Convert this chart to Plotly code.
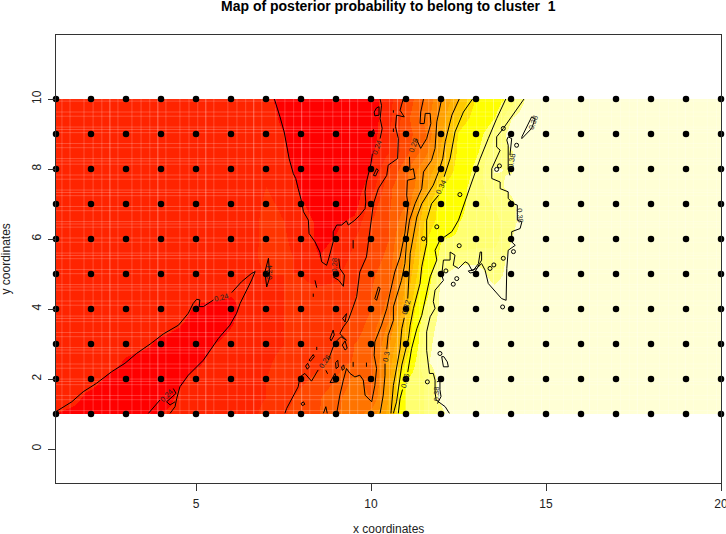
import plotly.graph_objects as go

title = "Map of posterior probability to belong to cluster  1"
grid_x = [1 + 0.5 * i for i in range(39)]
grid_y = [1 + 0.5 * i for i in range(19)]

L = [.245] * 12
R = [.393, .394, .394, .395, .395, .396, .396, .397, .397, .398, .398]
# columns x = 1 ... 20 by 0.5, rows y = 1 ... 10 by 0.5
z_y10 = [.24, .237, .234, .232, .232, .238, .241, .243, .245, .246, .247, .248, .252, .259, .266, .27, .279, .285, .295, .314, .362, .37, .377, .39, .392, .392, .392, .392] + R
z_y15 = [.245, .243, .236, .232, .23, .23, .233, .243, .245, .246, .247, .248, .25, .256, .263, .269, .277, .287, .279, .312, .362, .37, .383, .39, .391, .391, .391, .392] + R
z_y20 = [.245, .245, .245, .237, .233, .232, .233, .237, .245, .246, .247, .248, .25, .253, .258, .263, .27, .283, .276, .308, .361, .37, .384, .39, .391, .391, .391, .392] + R
z_y25 = [.245, .245, .245, .245, .238, .233, .232, .233, .237, .245, .246, .247, .249, .252, .254, .257, .266, .271, .279, .305, .342, .378, .385, .39, .391, .391, .391, .392] + R
z_y30 = [.245, .245, .245, .245, .245, .243, .236, .232, .232, .24, .245, .246, .248, .25, .252, .255, .26, .27, .277, .30, .33, .375, .386, .39, .391, .391, .391, .392] + R
z_y35 = [.245, .245, .245, .245, .245, .245, .245, .24, .235, .232, .24, .245, .247, .25, .252, .254, .257, .264, .275, .293, .326, .372, .385, .39, .391, .391, .391, .392] + R
z_y40 = [.245, .245, .245, .245, .245, .245, .245, .245, .238, .235, .237, .245, .247, .25, .252, .254, .256, .261, .27, .285, .32, .362, .384, .388, .388, .388, .388, .39] + R
z_y45 = [.245, .245, .245, .245, .245, .245, .245, .245, .245, .245, .241, .243, .248, .25, .252, .252, .253, .259, .27, .28, .315, .351, .384, .388, .387, .383, .385, .39] + R
z_y50 = L + [.25, .25, .25, .246, .248, .256, .268, .277, .31, .344, .38, .386, .385, .376, .384, .39] + R
z_y55 = L + [.255, .252, .248, .24, .245, .252, .263, .274, .305, .339, .365, .375, .376, .374, .383, .39] + R
z_y60 = L + [.254, .251, .246, .237, .241, .25, .261, .27, .30, .335, .36, .362, .364, .366, .38, .39] + R
z_y65 = L + [.254, .25, .244, .238, .238, .243, .26, .27, .289, .33, .346, .36, .364, .367, .376, .39] + R
z_y70 = L + [.252, .248, .241, .235, .233, .235, .255, .269, .28, .323, .346, .357, .365, .371, .377, .39] + R
z_y75 = L + [.25, .246, .238, .233, .231, .234, .245, .268, .279, .303, .341, .355, .366, .376, .383, .392] + R
z_y80 = L + [.248, .243, .236, .232, .23, .232, .24, .26, .278, .298, .32, .349, .364, .381, .379, .39] + R
z_y85 = L + [.247, .241, .235, .23, .228, .23, .238, .25, .267, .285, .313, .345, .358, .375, .379, .39] + R
z_y90 = L + [.246, .24, .234, .23, .228, .23, .235, .25, .266, .277, .308, .343, .354, .37, .385, .39] + R
z_y95 = L + [.245, .237, .232, .228, .228, .23, .235, .247, .267, .283, .304, .33, .347, .359, .379, .388] + R
z_y100 = L + [.243, .235, .23, .228, .228, .23, .235, .247, .263, .28, .299, .319, .342, .353, .365, .385] + R
z_rows = [z_y10, z_y15, z_y20, z_y25, z_y30, z_y35, z_y40, z_y45, z_y50, z_y55, z_y60, z_y65,
          z_y70, z_y75, z_y80, z_y85, z_y90, z_y95, z_y100]

z_low, z_high = 0.22, 0.40
band_edges = [.22, .24, .25, .26, .27, .28, .29, .30, .31, .32, .33, .34, .35, .36, .37, .38, .40]
band_colors = ["#FF0000", "#FF2400", "#FF3400", "#FF4800", "#FF6000", "#FF7400", "#FF8800", "#FFA000", "#FFB000",
               "#FFC800", "#FFDF00", "#FFFF00", "#FFFF00", "#FFFF70", "#FFFF80", "#FFFFD5"]

line_024_up = [(7.24,10.0),(7.30,9.78),(7.40,9.49),(7.52,9.06),(7.59,8.68),(7.66,8.30),(7.78,7.87),(7.85,7.73),(7.92,7.44),(8.02,7.06),(8.07,6.78),(8.21,6.54),(8.23,6.16),(8.40,5.92),(8.54,5.63),(8.59,5.35),(8.73,5.25),(8.78,5.40),(8.92,5.92),(8.92,6.21),(9.02,6.40),(9.16,6.40),(9.30,6.52),(9.35,6.40),(9.54,6.54),(9.68,6.68),(9.83,6.87),(9.85,7.06),(9.83,7.35),(9.87,7.63),(10.0,8.16),(10.04,8.44),None,(10.26,8.87),(10.32,9.16),(10.26,9.44),(10.30,9.82),(10.26,10.0)]
line_024_low = [(1.0,1.07),(1.45,1.35),(1.78,1.64),(2.16,1.88),(2.59,2.21),(2.97,2.45),(3.30,2.73),(3.69,3.0),(4.07,3.29),(4.50,3.54),(4.78,3.88),(4.92,4.16),(5.02,4.28),(5.11,4.26),(5.09,4.07),(5.21,4.07),(5.50,4.26),None,(6.02,4.47),(6.30,4.78),(6.59,5.02),(6.69,5.07),(6.59,4.83),(6.40,4.45),(6.26,4.16),(6.16,3.88),(5.97,3.54),(5.64,3.16),(5.21,2.54),(4.78,2.11),(4.54,1.78),(4.45,1.45),(4.40,1.21),(4.26,1.02)]
line_024_foot = [(3.64,1.02),(3.97,1.40),None,(4.35,1.73),(4.43,1.59),(4.16,1.35),(4.26,1.26),(4.40,1.35)]
line_026 = [(10.92,10.0),(10.83,9.68),(10.95,9.49),(10.73,9.54),(10.70,9.21),(10.78,8.87),(10.76,8.30),(10.49,8.11),(10.45,7.82),(10.21,7.44),(10.07,7.01),(10.02,6.63),(9.87,5.49),(9.68,5.06),(9.59,4.35),(9.49,4.06),(9.35,3.68),(9.21,3.49),(9.11,3.30),(9.30,3.11),(9.14,3.21),(8.99,3.06),(8.92,2.92),(8.78,2.54),None,(8.49,2.26),(8.30,1.94),(8.11,2.16),(7.97,2.06),(7.92,1.78),(7.73,1.44),(7.59,1.16),(7.54,1.02)]
line_028 = [(11.50,10.0),(11.42,9.63),(11.40,9.30),(11.52,9.30),(11.55,9.59),(11.69,9.59),(11.71,9.30),(11.59,8.87),(11.42,8.59),(11.29,8.87),None,(11.10,8.35),(11.11,7.97),(11.21,8.01),(11.26,7.73),(11.04,7.68),(11.02,7.25),(11.06,6.97),(10.97,6.17),(10.83,5.49),(10.68,5.06),(10.54,4.44),(10.45,4.01),(10.30,3.54),(10.11,3.06),(10.09,2.68),(10.16,2.30),(10.11,1.82),(10.02,1.35),(9.83,1.54),(9.78,1.97),(9.68,2.11),(9.54,2.06),(9.40,2.16),(9.30,2.30),(9.21,1.97),(9.11,1.54),(9.02,1.02)]
line_030 = [(12.02,10.0),(11.88,9.35),(11.83,8.59),(11.73,8.25),(11.50,7.92),(11.45,7.44),(11.26,7.01),(11.10,6.54),(11.02,5.97),(10.97,5.30),(10.87,4.82),(10.64,4.06),(10.64,3.68),(10.49,3.25),(10.45,2.85),None,(10.40,2.44),(10.40,2.11),(10.35,1.54),(10.26,1.02)]
line_032 = [(12.52,10.0),(12.31,9.54),(12.12,8.78),(12.05,8.30),(11.93,7.92),(11.78,7.54),(11.45,7.01),(11.31,6.63),(11.12,5.59),(11.07,4.82),(11.05,4.3),None,(10.95,3.75),(10.88,3.44),(10.83,2.87),(10.73,2.30),(10.64,1.82),(10.57,1.02)]
line_034 = [(12.9,10.0),(12.64,9.63),(12.40,9.06),(12.26,8.30),(12.09,7.78),None,(11.93,7.25),(11.73,7.01),(11.59,6.54),(11.59,5.87),(11.45,5.21),(11.40,4.73),(11.21,4.01),(11.12,3.54),(11.07,3.16),(10.88,2.40),(10.73,1.35),(10.64,1.02)]
line_036 = [(13.85,10.0),(13.59,9.44),(13.35,8.87),(13.12,8.30),(12.88,7.63),(12.69,7.11),(12.50,6.54),(12.31,6.21),(11.97,5.97),(11.83,5.68),(11.88,5.40),(11.69,4.92),(11.59,4.44),(11.50,4.01),(11.45,3.82),(11.31,3.44),(11.16,2.87),(11.05,2.2),None,(10.9,1.7),(10.83,1.44),(10.78,1.02)]
line_038 = [(14.37,10.0),(14.02,9.49),(13.78,9.16),(13.59,8.92),(13.59,8.63),(13.69,8.54),(13.45,8.01),(13.45,7.73),(13.69,7.63),(13.69,7.44),(13.92,7.35),(13.92,7.16),(14.07,7.01),(14.18,6.97),(14.18,6.54),(14.31,6.49),(14.26,6.30),(14.02,6.21),(14.02,5.92),(14.12,5.82),(13.92,5.68),(13.88,5.16),(13.86,4.25),(13.73,4.30),(13.35,4.73),(13.26,5.11),(13.16,5.30),(13.02,5.16),(12.88,5.11),(12.78,5.30),(12.69,5.35),(12.50,5.16),(12.35,5.25),(12.40,5.54),(12.26,5.63),(12.26,5.40),(12.07,5.40),(12.02,4.97),(12.07,4.82),(11.83,4.54),(11.78,4.21),(11.83,4.02),(11.69,3.78),(11.59,3.35),(11.59,2.82),(11.64,2.40),(11.67,2.16),(11.78,2.16),(11.83,1.97),(11.83,1.63),(11.86,1.40),(12.12,1.21),(12.24,1.02)]
islands = [
    [(10.11,9.52),(10.09,9.63),(10.16,9.75),(10.23,9.78),(10.23,9.54),(10.11,9.52)],
    [(9.97,8.95),(10.07,9.13),(10.10,9.01),(9.97,8.95)],
    [(10.07,7.82),(10.16,8.01),(10.21,7.97),(10.13,7.80),(10.07,7.82)],
    [(10.64,9.68),(10.64,9.61)], [(10.64,9.16),(10.64,9.06)], [(9.49,5.97),(9.49,5.73)],
    [(7.07,5.45),(7.11,4.92),(7.02,4.63),(6.97,5.06),(7.07,5.45)],
    [(9.08,5.44),(9.11,5.16),(9.24,4.97),(9.21,4.65),(9.08,4.82),(8.92,4.92)],
    [(8.40,4.82),(8.45,4.61)], [(8.35,4.44),(8.35,4.35)],
    [(9.19,3.73),(9.30,3.87),(9.26,3.63),(9.19,3.73)],
    [(8.83,3.16),(8.92,3.40),(8.95,3.26),(8.86,3.09),(8.83,3.16)],
    [(9.18,2.97),(9.26,3.09),(9.32,2.88),(9.26,2.83),(9.18,2.97)],
    [(8.23,2.54),(8.35,2.70),(8.38,2.64),(8.27,2.51),(8.23,2.54)],
    [(8.13,2.37),(8.19,2.45),(8.24,2.35),(8.18,2.28),(8.13,2.37)],
    [(8.83,1.90),(8.97,2.16),(9.04,1.92),(8.83,1.90)],
    [(8.99,2.47),(9.05,2.54),(9.07,2.35),(9.0,2.30),(8.99,2.47)],
    [(9.16,2.35),(9.22,2.40),(9.24,2.30),(9.18,2.25),(9.16,2.35)],
    [(8.71,2.25),(8.76,2.15)], [(9.49,2.49),(9.49,2.35)], [(9.87,2.47),(9.87,2.35)], [(8.45,2.92),(8.45,2.83)],
    [(8.0,1.30),(8.07,1.35),(8.11,1.28),(8.04,1.24),(8.0,1.30)],
    [(8.64,1.02),(8.71,1.21),(8.75,1.02)],
    [(10.11,4.30),(10.21,4.63),(10.26,4.59),(10.16,4.25),(10.11,4.30)],
    [(12.78,5.09),(12.93,5.11),(13.07,5.30),(13.12,5.63),(13.16,5.63),(13.16,5.40),(12.97,5.06),(12.83,5.03),(12.78,5.09)],
    [(13.88,8.83),(13.92,8.92),(14.02,8.87),(13.97,8.40),None,(13.97,7.82),(13.92,8.0),(13.92,8.68),(13.88,8.83)],
    [(14.31,8.92),(14.45,9.21),(14.59,9.49),(14.69,9.44),(14.59,9.16),(14.31,8.87),(14.31,8.92)],
    [(12.02,2.64),(12.07,2.35),(12.21,2.35),(12.18,2.49),(12.08,2.64),(12.02,2.64)],
    [(11.88,1.92),(11.97,1.95),(11.97,1.7),(12.0,1.5),(11.9,1.3)],
]
spot_x = [14.16,13.59,13.67,12.52,12.14,12.45,12.35,13.40,13.51,13.78,14.07,13.76,11.97,11.61,13.78,12.54,11.88,11.50]
spot_y = [8.68,7.99,8.09,5.81,5.09,4.87,4.71,5.16,5.26,5.45,5.64,4.06,2.73,1.92,9.16,7.27,6.35,6.01]

label_text = ["0.24","0.24","0.24","0.26","0.28","0.34","0.38","0.38","0.38","0.38","0.32","0.3","0.36","0.28","0.24"]
label_x = [10.16,5.73,4.16,8.69,11.21,12.02,14.02,14.64,14.26,11.88,11.02,10.42,10.97,8.95,7.11]
label_y = [8.63,4.33,1.54,2.49,8.68,7.49,8.25,9.33,6.68,1.59,4.06,2.63,1.97,5.25,5.06]
label_angle = [-70,-15,-45,-55,-70,-65,-80,-70,85,-90,-75,-80,-75,-90,-90]

obs_x = [x for y in range(1, 11) for x in range(1, 21)]
obs_y = [y for y in range(1, 11) for x in range(1, 21)]

x_ticks = [5, 10, 15, 20]
y_ticks = [0, 2, 4, 6, 8, 10]
x_title = "x coordinates"
y_title = "y coordinates"


def unzip(paths):
    xs, ys = [], []
    for path in paths:
        for p in path:
            xs.append(None if p is None else p[0])
            ys.append(None if p is None else p[1])
        xs.append(None)
        ys.append(None)
    return xs, ys


stops = []
for i, c in enumerate(band_colors):
    stops += [[(band_edges[i] - z_low) / (z_high - z_low), c], [(band_edges[i + 1] - z_low) / (z_high - z_low), c]]

fig = go.Figure()
fig.add_trace(go.Contour(x=grid_x, y=grid_y, z=z_rows, zmin=z_low, zmax=z_high, zauto=False, colorscale=stops,
                         showscale=False, hoverinfo="skip", line_width=0,
                         contours=dict(coloring="heatmap", showlines=False, start=0.24, end=0.38, size=0.02)))

# pale seams of the raster image
pale_offsets_x = [0.17, 0.40, 0.80, 1.06, 1.31, 1.54]
pale_offsets_y = [0.0, 0.31, 0.43, 0.74, 0.83]
seam_x, seam_y = [], []
for k in range(14):
    for o in pale_offsets_x:
        v = 1 + o + k * 1.37
        if v < 20:
            seam_x += [v, v, None]
            seam_y += [1, 10, None]
for k in range(10):
    for o in pale_offsets_y:
        v = 1.1 + o + k * 0.9
        if v < 10:
            seam_x += [1, 20, None]
            seam_y += [v, v, None]
fig.add_trace(go.Scatter(x=seam_x, y=seam_y, mode="lines", line=dict(color="rgba(255,255,255,0.2)", width=1),
                         hoverinfo="skip", showlegend=False))

cx, cy = unzip([line_024_up, line_024_low, line_024_foot, line_026, line_028, line_030, line_032, line_034,
                line_036, line_038] + islands)
fig.add_trace(go.Scatter(x=cx, y=cy, mode="lines", line=dict(color="black", width=1), showlegend=False,
                         hoverinfo="skip"))
fig.add_trace(go.Scatter(x=spot_x, y=spot_y, mode="markers", showlegend=False, hoverinfo="skip",
                         marker=dict(symbol="circle-open", size=4, color="black", line=dict(width=1))))
fig.add_trace(go.Scatter(x=obs_x, y=obs_y, mode="markers", showlegend=False, cliponaxis=False,
                         marker=dict(color="black", size=6.5, line_width=0)))

for t, x, y, a in zip(label_text, label_x, label_y, label_angle):
    fig.add_annotation(x=x, y=y, text=t, textangle=a, showarrow=False,
                       font=dict(family="Liberation Sans", size=7.5, color="#222222"))

font = dict(family="Liberation Sans", size=12, color="#222222")
fig.add_annotation(xref="paper", yref="paper", x=0.5, y=1.065, text=f"<b>{title}</b>", showarrow=False,
                   xanchor="center", yanchor="middle", borderpad=0,
                   font=dict(family="Liberation Sans", size=14, color="black"))
fig.add_annotation(xref="paper", yref="paper", x=0.5, y=-0.1027, text=x_title, showarrow=False,
                   xanchor="center", yanchor="middle", borderpad=0, font=font)
fig.add_annotation(xref="paper", yref="paper", x=-0.0759, y=0.5, text=y_title, textangle=-90, showarrow=False,
                   xanchor="center", yanchor="middle", borderpad=0, font=font)

axis_common = dict(showgrid=False, zeroline=False, showline=True, mirror=True, linecolor="#333333", linewidth=1,
                   ticks="outside", ticklen=7, tickcolor="#333333", tickwidth=1, automargin=False, tickfont=font)
fig.update_layout(
    width=740, height=534, paper_bgcolor="white", plot_bgcolor="white", showlegend=False,
    margin=dict(l=55.5, r=19, t=35, b=51),
    xaxis=dict(range=[1, 20], tickvals=x_ticks, ticklabelstandoff=3, **axis_common),
    yaxis=dict(range=[-0.97, 11.83], tickvals=y_ticks, tickangle=-90, ticklabelstandoff=2, **axis_common),
)
fig.write_html("out.html", config={"displayModeBar": False},
               post_script="document.body.style.margin='0';document.body.style.overflow='hidden';")
